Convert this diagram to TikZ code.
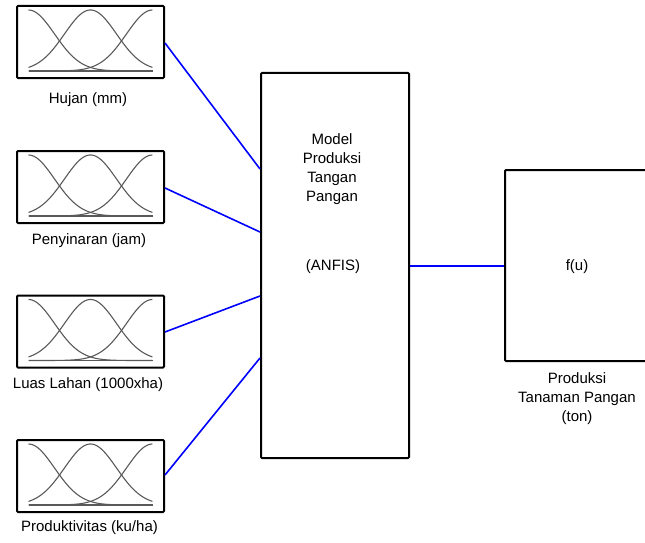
\documentclass[tikz,border=0pt]{standalone}
\usepackage{fontspec}
\setmainfont{Liberation Sans}
\begin{document}
\begin{tikzpicture}[x=1pt,y=-1pt,
  mfbox/.style={draw=black,line width=2pt,rounded corners=1pt,minimum width=147pt,minimum height=72pt,inner sep=0pt},
  bigbox/.style={draw=black,line width=2pt,rounded corners=1pt,inner sep=0pt},
  mfcurve/.style={draw=black!65,line width=1.1pt},
  link/.style={draw=blue,line width=1.6pt},
  lbl/.style={font=\fontsize{15}{19}\selectfont,inner sep=0pt,align=center},
  mfs/.pic={
    \draw[mfcurve,line width=1.6pt] (-62,29) -- (62,29);
    \foreach \c in {0,0.5,1}
      \draw[mfcurve] plot[domain=0:1,samples=90,smooth] ({-62+124*\x},{29-61*exp(-0.5*((\x-\c)/0.21)^2)});
  }]
\useasboundingbox (0,0) rectangle (645,543);
\clip (0,0) rectangle (645,543);
% input boxes
\node[mfbox] (b1) at (90.5,42) {};
\node[mfbox] (b2) at (90.5,187) {};
\node[mfbox] (b3) at (90.5,331.5) {};
\node[mfbox] (b4) at (90.5,476) {};
\pic at (b1.center) {mfs};
\pic at (b2.center) {mfs};
\pic at (b3.center) {mfs};
\pic at (b4.center) {mfs};
\node[lbl] (l1) at (88,100) {Hujan (mm)};
\node[lbl] (l2) at (89,241) {Penyinaran (jam)};
\node[lbl] (l3) at (88,385) {Luas Lahan (1000xha)};
\node[lbl] (l4) at (89.5,528) {Produktivitas (ku/ha)};
% ANFIS box
\node[bigbox,minimum width=148pt,minimum height=385pt] (m) at (335,265.5) {};
\node[lbl] (mt) at (332,169.5) {Model\\Produksi\\Tangan\\Pangan};
\node[lbl] (ma) at (333,267) {(ANFIS)};
% output box
\node[bigbox,minimum width=145pt,minimum height=191pt] (o) at (577.5,265.5) {};
\node[lbl] (fu) at (577,267) {f(u)};
\node[lbl] (ol) at (577,399) {Produksi\\Tanaman Pangan\\(ton)};
% ports
\coordinate (p1) at (m.west |- 0,169);
\coordinate (p2) at (m.west |- 0,232);
\coordinate (p3) at (m.west |- 0,296);
\coordinate (p4) at (m.west |- 0,358);
\coordinate (q1) at (b1.east |- 0,43);
\coordinate (q2) at (b2.east |- 0,188);
\coordinate (q3) at (b3.east |- 0,332);
\coordinate (q4) at (b4.east |- 0,475);
\draw[link] (q1) -- (p1);
\draw[link] (q2) -- (p2);
\draw[link] (q3) -- (p3);
\draw[link] (q4) -- (p4);
\draw[link] (m.east |- 0,266) -- (o.west |- 0,266);
\end{tikzpicture}
\end{document}
